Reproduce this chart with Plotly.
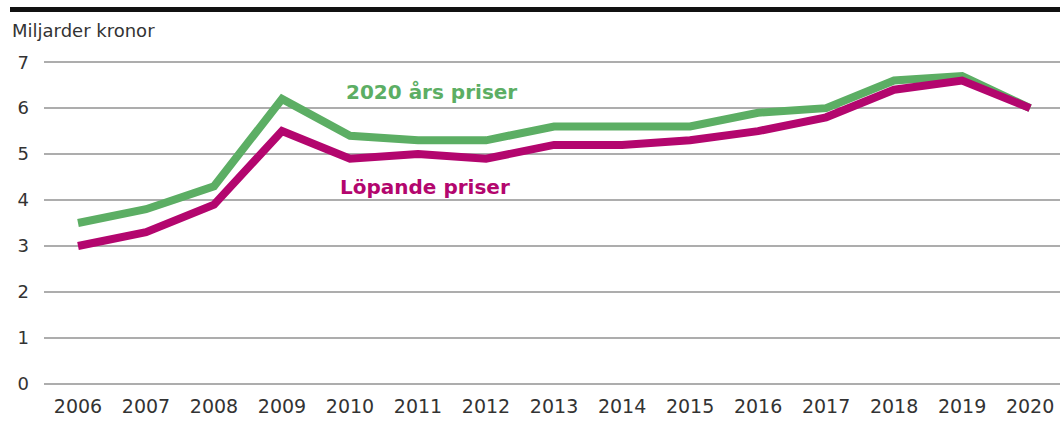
import plotly.graph_objects as go

# Annual values, billions of kronor
years = [2006, 2007, 2008, 2009, 2010, 2011, 2012, 2013, 2014, 2015,
         2016, 2017, 2018, 2019, 2020]
fixed_prices = [3.5, 3.8, 4.3, 6.2, 5.4, 5.3, 5.3, 5.6, 5.6, 5.6,
                5.9, 6.0, 6.6, 6.7, 6.0]
current_prices = [3.0, 3.3, 3.9, 5.5, 4.9, 5.0, 4.9, 5.2, 5.2, 5.3,
                  5.5, 5.8, 6.4, 6.6, 6.0]
y_ticks = [0, 1, 2, 3, 4, 5, 6, 7]

label_fixed = "2020 års priser"
label_current = "Löpande priser"
unit_label = "Miljarder kronor"

GREEN = "#5cae64"
MAGENTA = "#b3066e"
FONT = "DejaVu Sans"

W, H = 1060, 421
L, R, T, B = 44, 0, 53, 28

fig = go.Figure()
fig.add_trace(go.Scatter(x=years, y=fixed_prices, mode="lines",
                         line=dict(color=GREEN, width=8),
                         name=label_fixed, hoverinfo="x+y"))
fig.add_trace(go.Scatter(x=years, y=current_prices, mode="lines",
                         line=dict(color=MAGENTA, width=8),
                         name=label_current, hoverinfo="x+y"))

# In-chart series labels
fig.add_annotation(x=2011.2, y=6.35, text=f"<b>{label_fixed}</b>",
                   showarrow=False, font=dict(family=FONT, size=20, color=GREEN))
fig.add_annotation(x=2011.1, y=4.28, text=f"<b>{label_current}</b>",
                   showarrow=False, font=dict(family=FONT, size=20, color=MAGENTA))

# Heavy rule across the top
plot_h = H - T - B
plot_w = W - L - R
fig.add_shape(type="rect", xref="paper", yref="paper",
              x0=(10 - L) / plot_w, x1=1.0,
              y0=(H - B - 12) / plot_h, y1=(H - B - 7) / plot_h,
              fillcolor="#111111", line=dict(width=0), layer="above")

fig.update_layout(
    width=W, height=H,
    margin=dict(l=L, r=R, t=T, b=B),
    paper_bgcolor="white", plot_bgcolor="white",
    showlegend=False,
    font=dict(family=FONT, size=18, color="#333333"),
    title=dict(text=unit_label, xref="container", yref="container",
               x=12 / W, y=1 - 31 / H, xanchor="left", yanchor="middle",
               font=dict(family=FONT, size=18, color="#333333")),
    xaxis=dict(range=[2005.5, 2020.44], tickmode="array", tickvals=years,
               ticktext=[str(y) for y in years], showgrid=False,
               zeroline=False, showline=False, ticks="",
               tickfont=dict(family=FONT, size=19, color="#333333")),
    yaxis=dict(range=[-0.2, 7.2], tickmode="array", tickvals=y_ticks,
               showgrid=True, gridcolor="#adadad", gridwidth=1.5,
               zeroline=False, showline=False, ticks="",
               ticklabelstandoff=14,
               tickfont=dict(family=FONT, size=18, color="#333333")),
)

fig.write_html("out.html")
